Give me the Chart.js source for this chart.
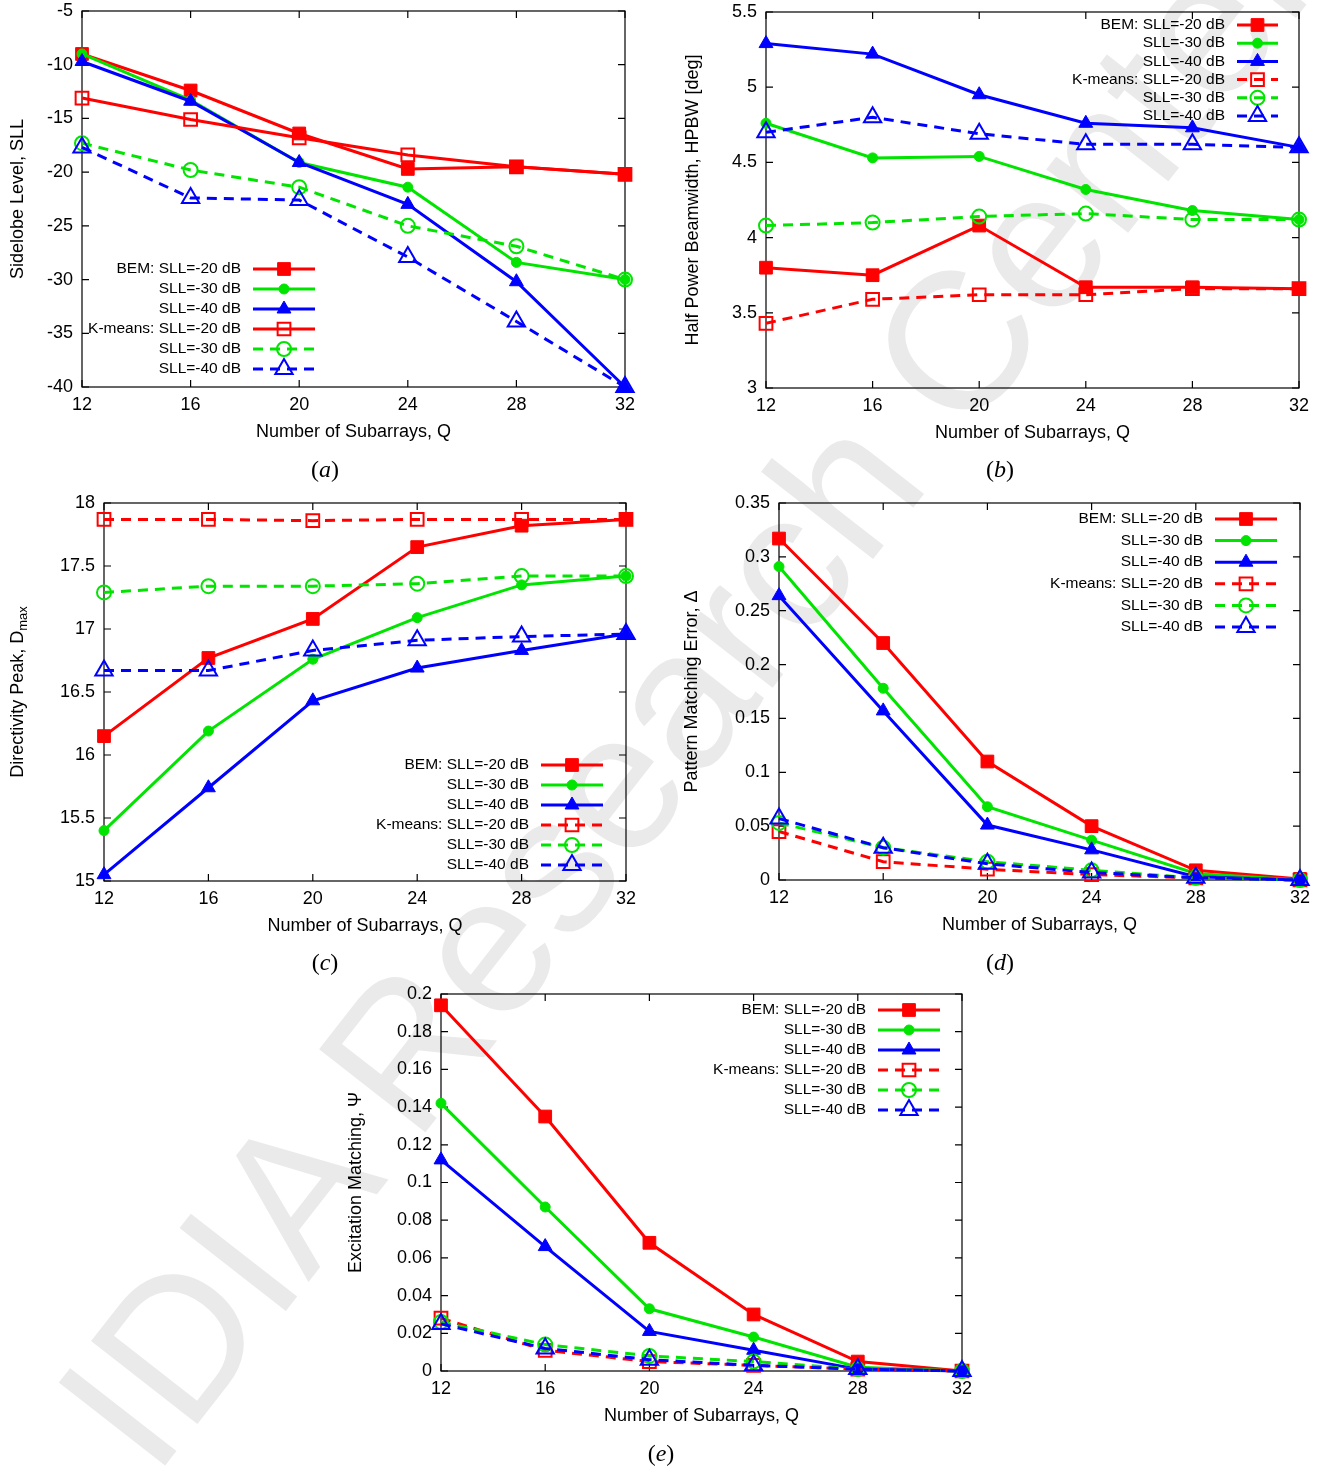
<!DOCTYPE html>
<html lang="en">
<head>
<meta charset="UTF-8" />
<title>BEM vs K-means subarray comparison</title>
<script src="https://cdn.jsdelivr.net/npm/chart.js"></script>
<style>
  body { margin: 0; background: #fff; width: 1334px; height: 1472px; position: relative; overflow: hidden; font-family: "Liberation Sans", Arial, sans-serif; }
  canvas { position: absolute; z-index: 1; }
  .cap { position: absolute; z-index: 1; font-family: "Liberation Serif", serif; font-size: 24px; transform: translate(-50%, -50%); }
  #wm { position: absolute; z-index: 0; left: 180px; top: 1300px; height: 200px; line-height: 200px; transform-origin: 0 100%; transform: rotate(-52deg); font-size: 196px; color: #eaeaea; white-space: nowrap; }
</style>
</head>
<body>
<div id="wm">IDIA Research Center</div>

<canvas id="chartA"></canvas>
<canvas id="chartB"></canvas>
<canvas id="chartC"></canvas>
<canvas id="chartD"></canvas>
<canvas id="chartE"></canvas>

<div class="cap" style="left:325px; top:469px;">(<i>a</i>)</div>
<div class="cap" style="left:1000px; top:469px;">(<i>b</i>)</div>
<div class="cap" style="left:325px; top:962px;">(<i>c</i>)</div>
<div class="cap" style="left:1000px; top:962px;">(<i>d</i>)</div>
<div class="cap" style="left:661px; top:1453px;">(<i>e</i>)</div>

<script>
// x values (number of subarrays)
const q = [12, 16, 20, 24, 28, 32];
const seriesLabels = ["BEM: SLL=-20 dB", "SLL=-30 dB", "SLL=-40 dB", "K-means: SLL=-20 dB", "SLL=-30 dB", "SLL=-40 dB"];

// (a) sidelobe level
const sllBem20 = [-9.0, -12.4, -16.4, -19.7, -19.5, -20.2];
const sllBem30 = [-9.0, -13.3, -19.1, -21.4, -28.4, -30.0];
const sllBem40 = [-9.7, -13.4, -19.1, -23.0, -30.2, -40.0];
const sllKm20 = [-13.1, -15.1, -16.8, -18.4, -19.5, -20.2];
const sllKm30 = [-17.3, -19.8, -21.4, -25.0, -26.9, -30.0];
const sllKm40 = [-17.7, -22.4, -22.6, -27.9, -33.9, -40.0];

// (b) half power beamwidth
const hpbwBem20 = [3.80, 3.75, 4.08, 3.67, 3.67, 3.66];
const hpbwBem30 = [4.76, 4.53, 4.54, 4.32, 4.18, 4.12];
const hpbwBem40 = [5.29, 5.22, 4.95, 4.76, 4.73, 4.60];
const hpbwKm20 = [3.43, 3.59, 3.62, 3.62, 3.66, 3.66];
const hpbwKm30 = [4.08, 4.10, 4.14, 4.16, 4.12, 4.12];
const hpbwKm40 = [4.70, 4.80, 4.69, 4.62, 4.62, 4.60];

// (c) directivity peak
const dirBem20 = [16.15, 16.77, 17.08, 17.65, 17.82, 17.87];
const dirBem30 = [15.40, 16.19, 16.76, 17.09, 17.35, 17.42];
const dirBem40 = [15.05, 15.74, 16.43, 16.69, 16.83, 16.96];
const dirKm20 = [17.87, 17.87, 17.86, 17.87, 17.87, 17.87];
const dirKm30 = [17.29, 17.34, 17.34, 17.36, 17.42, 17.42];
const dirKm40 = [16.67, 16.67, 16.83, 16.91, 16.94, 16.96];

// (d) pattern matching error
const pmeBem20 = [0.317, 0.220, 0.110, 0.050, 0.009, 0.001];
const pmeBem30 = [0.291, 0.178, 0.068, 0.037, 0.006, 0.000];
const pmeBem40 = [0.264, 0.157, 0.051, 0.028, 0.003, 0.000];
const pmeKm20 = [0.045, 0.017, 0.010, 0.005, 0.002, 0.000];
const pmeKm30 = [0.053, 0.030, 0.017, 0.009, 0.002, 0.000];
const pmeKm40 = [0.057, 0.030, 0.015, 0.007, 0.002, 0.000];

// (e) excitation matching
const excBem20 = [0.194, 0.135, 0.068, 0.030, 0.005, 0.000];
const excBem30 = [0.142, 0.087, 0.033, 0.018, 0.002, 0.000];
const excBem40 = [0.112, 0.066, 0.021, 0.011, 0.001, 0.000];
const excKm20 = [0.028, 0.011, 0.005, 0.003, 0.001, 0.000];
const excKm30 = [0.026, 0.014, 0.008, 0.005, 0.001, 0.000];
const excKm40 = [0.025, 0.012, 0.006, 0.003, 0.001, 0.000];

const RED = "#ff0000", GREEN = "#00e400", BLUE = "#0000ff";
const DASH = [10, 7];
const FONT = '"Liberation Sans", Arial, sans-serif';

const styles = [
  { color: RED, dash: [], point: "rect", r: 9, fill: true },
  { color: GREEN, dash: [], point: "circle", r: 5, fill: true },
  { color: BLUE, dash: [], point: "triangle", r: 8, fill: true },
  { color: RED, dash: DASH, point: "rect", r: 9, fill: false },
  { color: GREEN, dash: DASH, point: "circle", r: 7, fill: false },
  { color: BLUE, dash: DASH, point: "triangle", r: 10, fill: false },
];

function drawMarker(ctx, style, r, x, y) {
  ctx.beginPath();
  if (style === "rect") {
    const s = r * Math.SQRT1_2;
    ctx.rect(x - s, y - s, 2 * s, 2 * s);
  } else if (style === "circle") {
    ctx.arc(x, y, r, 0, Math.PI * 2);
  } else {
    ctx.moveTo(x, y - r);
    ctx.lineTo(x + Math.sin(2 * Math.PI / 3) * r, y + 0.5 * r);
    ctx.lineTo(x - Math.sin(2 * Math.PI / 3) * r, y + 0.5 * r);
    ctx.closePath();
  }
  ctx.fill();
  ctx.stroke();
}

// box, inward ticks and axis titles, gnuplot style
const framePlugin = {
  id: "frame",
  beforeDatasetsDraw(chart, args, opts) {
    const { ctx, chartArea: a, scales } = chart;
    ctx.save();
    ctx.strokeStyle = "#000";
    ctx.lineWidth = 1.2;
    ctx.strokeRect(a.left, a.top, a.right - a.left, a.bottom - a.top);
    ctx.beginPath();
    scales.x.ticks.forEach(t => {
      const px = scales.x.getPixelForValue(t.value);
      ctx.moveTo(px, a.bottom); ctx.lineTo(px, a.bottom - 7);
      ctx.moveTo(px, a.top); ctx.lineTo(px, a.top + 7);
    });
    scales.y.ticks.forEach(t => {
      const py = scales.y.getPixelForValue(t.value);
      ctx.moveTo(a.left, py); ctx.lineTo(a.left + 7, py);
      ctx.moveTo(a.right, py); ctx.lineTo(a.right - 7, py);
    });
    ctx.stroke();

    ctx.fillStyle = "#000";
    ctx.font = "18px " + FONT;
    ctx.textBaseline = "middle";
    ctx.textAlign = "center";
    ctx.fillText("Number of Subarrays, Q", (a.left + a.right) / 2, a.bottom + 45);

    ctx.translate(a.left - opts.yOff, (a.top + a.bottom) / 2);
    ctx.rotate(-Math.PI / 2);
    ctx.textAlign = "left";
    const w1 = ctx.measureText(opts.yTitle).width;
    let w2 = 0;
    if (opts.ySub) {
      ctx.font = "13px " + FONT;
      w2 = ctx.measureText(opts.ySub).width;
      ctx.font = "18px " + FONT;
    }
    const x0 = -(w1 + w2) / 2;
    ctx.fillText(opts.yTitle, x0, 0);
    if (opts.ySub) {
      ctx.font = "13px " + FONT;
      ctx.fillText(opts.ySub, x0 + w1, 5);
    }
    ctx.restore();
  },
};

// legend in the gnuplot layout: text right aligned, sample to the right
const keyPlugin = {
  id: "key",
  afterDraw(chart, args, opts) {
    const { ctx } = chart;
    ctx.save();
    ctx.font = "15.5px " + FONT;
    ctx.textAlign = "right";
    ctx.textBaseline = "middle";
    chart.data.datasets.forEach((ds, i) => {
      const y = opts.y0 + i * opts.dy;
      ctx.fillStyle = "#000";
      ctx.fillText(seriesLabels[i], opts.x, y);
      ctx.strokeStyle = ds.borderColor;
      ctx.lineWidth = 3;
      ctx.setLineDash(ds.borderDash);
      ctx.beginPath();
      ctx.moveTo(opts.x1, y);
      ctx.lineTo(opts.x2, y);
      ctx.stroke();
      ctx.setLineDash([]);
      ctx.lineWidth = ds.pointBorderWidth;
      ctx.fillStyle = ds.pointBackgroundColor;
      drawMarker(ctx, ds.pointStyle, ds.pointRadius, (opts.x1 + opts.x2) / 2, y);
    });
    ctx.restore();
  },
};

function makePanel(p) {
  const cv = document.getElementById(p.id);
  // canvas bounds from the wanted plot area
  const L = p.left;
  const T = p.area.t - 25;
  const B = p.area.b + 70;
  const W = p.right - L;
  const H = B - T;
  cv.width = W;
  cv.height = H;
  cv.style.left = L + "px";
  cv.style.top = T + "px";

  const datasets = p.series.map((vals, i) => {
    const st = styles[i];
    const dash = (p.solid && p.solid.includes(i)) ? [] : st.dash;
    return {
      label: seriesLabels[i],
      data: q.map((x, k) => ({ x: x, y: vals[k] })),
      borderColor: st.color,
      borderWidth: 3,
      borderDash: dash,
      pointStyle: st.point,
      pointRadius: st.r,
      pointBorderWidth: st.fill ? 1 : 2,
      pointBorderColor: st.color,
      pointBackgroundColor: st.fill ? st.color : "rgba(0,0,0,0)",
      tension: 0,
      clip: false,
      order: -i,
    };
  });

  new Chart(cv, {
    type: "line",
    data: { datasets: datasets },
    options: {
      responsive: false,
      animation: false,
      layout: { padding: { left: 0, top: p.area.t - T, right: L + W - p.area.r, bottom: 0 } },
      scales: {
        x: {
          type: "linear",
          min: 12,
          max: 32,
          grid: { display: false, drawTicks: false },
          border: { display: false },
          ticks: { stepSize: 4, padding: 7, color: "#000", font: { family: FONT, size: 18 } },
          afterFit: s => { s.height = B - p.area.b; },
        },
        y: {
          min: p.yMin,
          max: p.yMax,
          grid: { display: false, drawTicks: false },
          border: { display: false },
          ticks: {
            stepSize: p.yStep,
            padding: 9,
            color: "#000",
            font: { family: FONT, size: 18 },
            callback: v => String(+v.toFixed(2)),
          },
          afterFit: s => { s.width = p.area.l - L; },
        },
      },
      plugins: {
        legend: { display: false },
        tooltip: { enabled: false },
        frame: { yTitle: p.yTitle, ySub: p.ySub, yOff: p.yOff },
        key: {
          x: p.key.x - L,
          y0: p.key.y0 - T,
          dy: p.key.dy,
          x1: p.key.x1 - L,
          x2: p.key.x2 - L,
        },
      },
    },
    plugins: [framePlugin, keyPlugin],
  });
}

makePanel({
  id: "chartA", left: 0, right: 660,
  area: { l: 82, t: 11, r: 625, b: 387 },
  yMin: -40, yMax: -5, yStep: 5,
  yTitle: "Sidelobe Level, SLL", yOff: 64,
  series: [sllBem20, sllBem30, sllBem40, sllKm20, sllKm30, sllKm40],
  solid: [3],
  key: { x: 241, y0: 269, dy: 20, x1: 253, x2: 315 },
});

makePanel({
  id: "chartB", left: 667, right: 1334,
  area: { l: 766, t: 12, r: 1299, b: 388 },
  yMin: 3, yMax: 5.5, yStep: 0.5,
  yTitle: "Half Power Beamwidth, HPBW [deg]", yOff: 73,
  series: [hpbwBem20, hpbwBem30, hpbwBem40, hpbwKm20, hpbwKm30, hpbwKm40],
  key: { x: 1225, y0: 25, dy: 18.2, x1: 1237, x2: 1278 },
});

makePanel({
  id: "chartC", left: 0, right: 660,
  area: { l: 104, t: 503, r: 626, b: 881 },
  yMin: 15, yMax: 18, yStep: 0.5,
  yTitle: "Directivity Peak, D", ySub: "max", yOff: 86,
  series: [dirBem20, dirBem30, dirBem40, dirKm20, dirKm30, dirKm40],
  key: { x: 529, y0: 765, dy: 20, x1: 541, x2: 603 },
});

makePanel({
  id: "chartD", left: 667, right: 1334,
  area: { l: 779, t: 503, r: 1300, b: 880 },
  yMin: 0, yMax: 0.35, yStep: 0.05,
  yTitle: "Pattern Matching Error, \u0394", yOff: 87,
  series: [pmeBem20, pmeBem30, pmeBem40, pmeKm20, pmeKm30, pmeKm40],
  key: { x: 1203, y0: 519, dy: 21.6, x1: 1215, x2: 1277 },
});

makePanel({
  id: "chartE", left: 320, right: 1000,
  area: { l: 441, t: 994, r: 962, b: 1371 },
  yMin: 0, yMax: 0.2, yStep: 0.02,
  yTitle: "Excitation Matching, \u03a8", yOff: 85,
  series: [excBem20, excBem30, excBem40, excKm20, excKm30, excKm40],
  key: { x: 866, y0: 1010, dy: 20, x1: 878, x2: 940 },
});
</script>
</body>
</html>
